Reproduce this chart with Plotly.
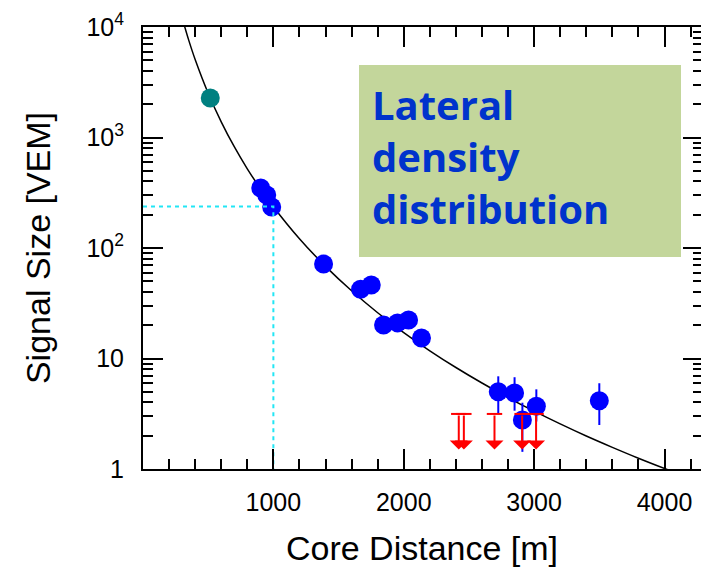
import math
import plotly.graph_objects as go

# ---------------- data ----------------
# fitted lateral distribution function (sampled along the drawn curve)
fit_dist = [300, 350, 400, 500, 600, 700, 800, 900, 1000, 1200, 1400, 1600, 1800,
            2000, 2200, 2400, 2600, 2800, 3000, 3200, 3400, 3600, 3800, 4000, 4100]
fit_signal = [12130, 7650, 5083, 2515, 1387, 826, 521, 345, 236.6, 121.4, 68.2, 41.0, 25.96,
              17.16, 11.75, 8.29, 6.00, 4.43, 3.34, 2.56, 1.99, 1.571, 1.253, 1.011, 0.911]

# triggered stations
station_dist = [903, 949, 987, 1385, 1669, 1751, 1845, 1952, 2037, 2136, 2725, 2850, 2910, 3017, 3500]
station_signal = [349, 302, 235, 71.6, 42.3, 46.3, 20.1, 21.0, 22.3, 15.3, 5.0, 4.87, 2.78, 3.69, 4.14]
station_err_up = [0, 0, 0, 0, 0, 0, 0, 0, 0, 0, 1.9, 1.9, 1.2, 1.57, 1.83]
station_err_down = [0, 0, 0, 0, 0, 0, 0, 0, 0, 0, 1.8, 1.5, 1.35, 1.0, 1.64]

# saturated station
sat_dist = [516]
sat_signal = [2277]

# upper limits (silent stations)
ul_dist = [2422, 2461, 2696, 2908, 3015]
ul_top = [3.15, 3.15, 3.15, 3.15, 3.15]
ul_tip = [1.5, 1.5, 1.5, 1.5, 1.5]

# reference distance and S(1000)
r_ref = 1000
s_ref = 237

x_ticks = [1000, 2000, 3000, 4000]
y_ticks = [1, 10, 100, 1000, 10000]
y_ticktext = ["1", "10", "10<sup>2</sup>", "10<sup>3</sup>", "10<sup>4</sup>"]

# ---------------- figure ----------------
BLUE = "#0000FF"
RED = "#FF0000"
CYAN = "#22E6F5"
AXFONT = "Liberation Sans, Arial, sans-serif"

fig = go.Figure()

# cyan reference lines (on overlay axis y2 which shares the same range)
fig.add_trace(go.Scatter(
    x=[0, r_ref, r_ref], y=[s_ref, s_ref, 1], mode="lines",
    line=dict(color=CYAN, width=2, dash="4px,4px"), yaxis="y2", hoverinfo="skip"))

# fit curve
fig.add_trace(go.Scatter(
    x=fit_dist, y=fit_signal, mode="lines",
    line=dict(color="black", width=1.5, shape="spline"), hoverinfo="skip"))

# saturated station
fig.add_trace(go.Scatter(
    x=sat_dist, y=sat_signal, mode="markers",
    marker=dict(color="#008080", size=19, symbol="circle")))

# stations
fig.add_trace(go.Scatter(
    x=station_dist, y=station_signal, mode="markers",
    marker=dict(color=BLUE, size=19, symbol="circle"),
    error_y=dict(type="data", symmetric=False, array=station_err_up,
                 arrayminus=station_err_down, color=BLUE, thickness=2, width=0)))

# upper-limit caps
fig.add_trace(go.Scatter(
    x=ul_dist, y=ul_top, mode="markers",
    marker=dict(symbol="line-ew", size=11, line=dict(color=RED, width=2))))

annotations = []
for ux, top, tip in zip(ul_dist, ul_top, ul_tip):
    annotations.append(dict(
        x=ux, y=math.log10(tip), ax=ux, ay=math.log10(top),
        xref="x", yref="y", axref="x", ayref="y",
        showarrow=True, arrowhead=1, arrowsize=1.5, arrowwidth=2,
        arrowcolor=RED, text=""))

# text box
annotations.append(dict(
    x=(370 - 143) / 558, y=(469 - 157) / 442, xref="paper", yref="paper",
    xanchor="left", yanchor="middle", align="left", showarrow=False,
    text="<b>Lateral<br>density<br>distribution</b>",
    font=dict(family="Open Sans, sans-serif", size=40, color="#0033CC")))

shapes = [dict(
    type="rect", xref="paper", yref="paper",
    x0=(359 - 143) / 558, x1=(681 - 143) / 558,
    y0=(469 - 257) / 442, y1=(469 - 65) / 442,
    fillcolor="#C3D69B", line=dict(width=0), layer="below")]

minor_y = [m * 10 ** k for k in range(4) for m in range(2, 10)]

fig.update_layout(
    width=716, height=567, autosize=False,
    margin=dict(l=143, r=15, t=27, b=98),
    paper_bgcolor="white", plot_bgcolor="white",
    showlegend=False,
    annotations=annotations, shapes=shapes,
    font=dict(family=AXFONT, color="black"),
    xaxis=dict(
        range=[0, 4280], tickvals=x_ticks, ticks="inside", ticklen=20, tickwidth=2,
        tickcolor="black", showline=True, linewidth=2, linecolor="black",
        mirror="ticks", showgrid=False, zeroline=False,
        tickfont=dict(family=AXFONT, size=25, color="black"),
        ticklabelstandoff=10,
        minor=dict(dtick=200, tick0=0, ticks="inside", ticklen=10, tickwidth=2,
                   tickcolor="black", showgrid=False),
        title=dict(text="Core Distance [m]", standoff=22,
                   font=dict(family=AXFONT, size=34, color="black")),
        automargin=False),
    yaxis=dict(
        type="log", range=[0, 4], tickvals=y_ticks, ticktext=y_ticktext,
        ticks="inside", ticklen=20, tickwidth=2, tickcolor="black",
        showline=True, linewidth=2, linecolor="black", mirror=False,
        showgrid=False, zeroline=False,
        tickfont=dict(family=AXFONT, size=25, color="black"),
        ticklabelstandoff=12,
        minor=dict(tickmode="array", tickvals=minor_y, ticks="inside", ticklen=10,
                   tickwidth=2, tickcolor="black", showgrid=False),
        title=dict(text="Signal Size [VEM]", standoff=26,
                   font=dict(family=AXFONT, size=34, color="black")),
        automargin=False),
    yaxis2=dict(
        type="log", range=[0, 4], overlaying="y", side="right",
        tickvals=y_ticks, showticklabels=False,
        ticks="inside", ticklen=18, tickwidth=2, tickcolor="black",
        showline=False, showgrid=False, zeroline=False,
        minor=dict(tickmode="array", tickvals=minor_y, ticks="inside", ticklen=8,
                   tickwidth=2, tickcolor="black", showgrid=False),
        automargin=False),
)

fig.write_html("out.html",
               config={"displayModeBar": False},
               post_script="document.body.style.margin='0';document.body.style.padding='0';")
